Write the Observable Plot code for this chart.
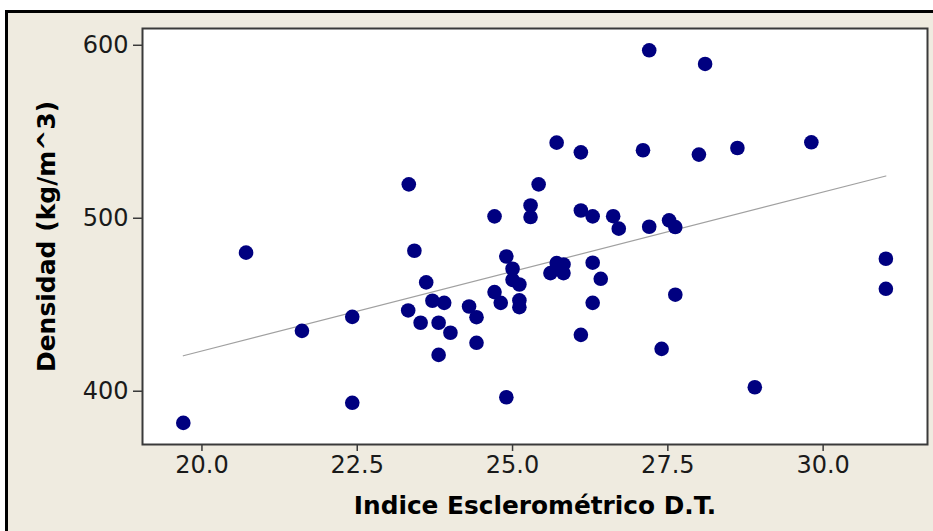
<!DOCTYPE html>
<html>
<head>
<meta charset="utf-8">
<script src="https://cdn.jsdelivr.net/npm/d3@7"></script>
<script src="https://cdn.jsdelivr.net/npm/@observablehq/plot@0.6"></script>
<style>
  html, body { margin: 0; padding: 0; background: #ffffff; }
  #wrap { position: relative; width: 933px; height: 531px; overflow: hidden; }
  #panel { position: absolute; left: 5px; top: 10px; width: 960px; height: 560px;
           box-sizing: border-box; border: 3px solid #000; background: #efebe0; }
  #chart { position: absolute; left: 0; top: 0; }
</style>
</head>
<body>
<div id="wrap"><div id="panel"></div><div id="chart"></div></div>
<script>
// Índice esclerométrico (x) y densidad (y)
const indice = [
  19.70, 20.71, 21.61, 22.42, 22.42, 23.33, 23.32, 23.42, 23.52, 23.61,
  23.71, 23.81, 23.81, 23.90, 24.00, 24.30, 24.42, 24.42, 24.71, 24.71,
  24.81, 24.90, 24.90, 25.00, 25.00, 25.11, 25.11, 25.11, 25.29, 25.29,
  25.42, 25.61, 25.71, 25.71, 25.82, 25.82, 26.10, 26.10, 26.10, 26.29,
  26.29, 26.29, 26.42, 26.62, 26.71, 27.10, 27.20, 27.20, 27.40, 27.52,
  27.62, 27.62, 28.00, 28.10, 28.62, 28.90, 29.81, 31.01, 31.01
];
const densidad = [
  381.7, 480.1, 434.9, 443.0, 393.3, 519.6, 446.7, 481.2, 439.6, 462.9,
  452.3, 439.6, 421.0, 451.1, 433.8, 449.0, 442.8, 428.0, 501.1, 457.3,
  451.1, 477.9, 396.5, 470.8, 464.4, 461.7, 452.5, 448.6, 507.4, 500.7,
  519.6, 468.3, 474.1, 543.7, 473.3, 468.3, 538.1, 504.5, 432.6, 501.1,
  474.3, 451.1, 465.0, 501.2, 494.0, 539.3, 597.1, 495.1, 424.5, 498.8,
  494.9, 455.8, 536.8, 589.2, 540.6, 402.3, 543.9, 476.6, 459.2
];
const xTicks = [20.0, 22.5, 25.0, 27.5, 30.0];
const yTicks = [400, 500, 600];
const xTitle = "Indice Esclerométrico D.T.";
const yTitle = "Densidad (kg/m^3)";

const data = indice.map((x, i) => ({x, y: densidad[i]}));

const font = "'DejaVu Sans', Verdana, sans-serif";

const chart = Plot.plot({
  width: 933,
  height: 531,
  marginLeft: 142,
  marginRight: 6,
  marginTop: 28,
  marginBottom: 87,
  style: {background: "transparent", fontFamily: font, color: "#1a1a1a"},
  x: {domain: [19.043, 31.68], label: null},
  y: {domain: [369.2, 609.7], label: null},
  marks: [
    Plot.frame({fill: "#ffffff"}),
    Plot.linearRegressionY(data, {x: "x", y: "y", stroke: "#a0a0a0", strokeWidth: 1.2, ci: 0}),
    Plot.dot(data, {x: "x", y: "y", r: 7.3, fill: "#000080", stroke: "none"}),
    Plot.frame({stroke: "#3a3a3a", strokeWidth: 2}),
    Plot.axisX({ticks: xTicks, tickFormat: d => d.toFixed(1), tickSize: 7, tickPadding: 4,
                fontSize: 24, stroke: "#3a3a3a", strokeWidth: 1.5, label: null}),
    Plot.axisY({ticks: yTicks, tickFormat: d => String(d), tickSize: 9, tickPadding: 5,
                fontSize: 24, stroke: "#3a3a3a", strokeWidth: 1.5, label: null}),
    Plot.text([xTitle], {frameAnchor: "bottom", dy: 69, text: d => d, fontSize: 24.8,
                textAnchor: "middle", fontWeight: "bold", fill: "#000"}),
    Plot.text([yTitle], {frameAnchor: "left", dx: -96, text: d => d, rotate: -90, fontSize: 25,
                textAnchor: "middle", fontWeight: "bold", fill: "#000"})
  ]
});
document.getElementById("chart").appendChild(chart);
</script>
</body>
</html>
